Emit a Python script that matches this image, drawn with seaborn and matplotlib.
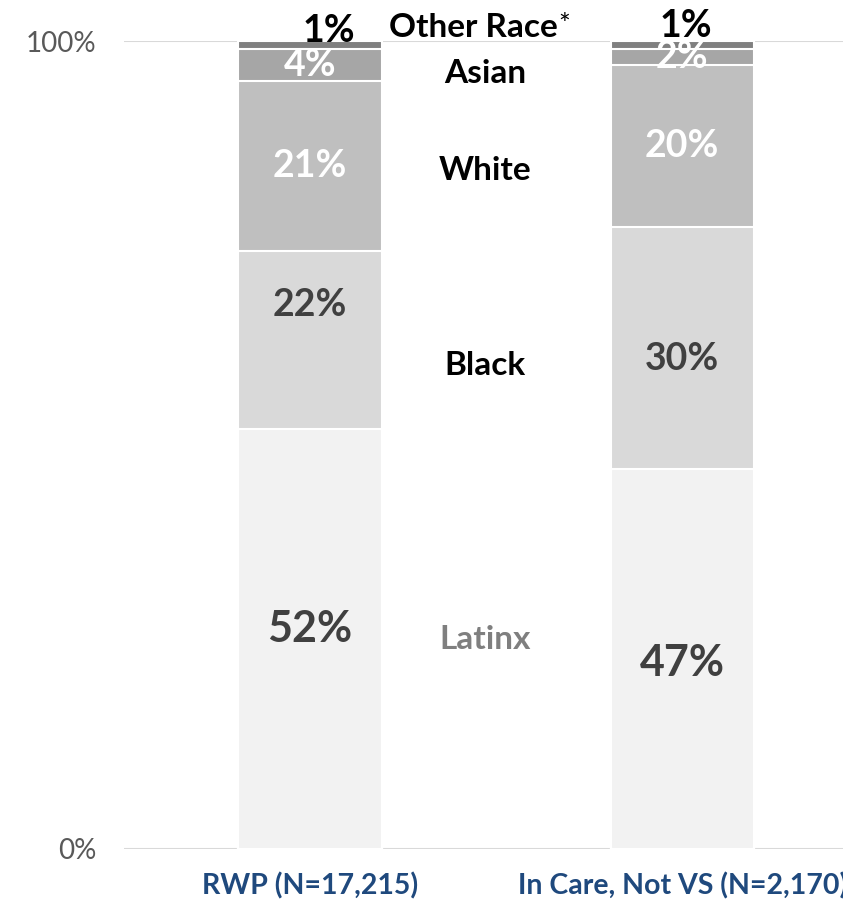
import numpy as np
import pandas as pd
import seaborn as sns
import matplotlib.pyplot as plt

groups = ['RWP (N=17,215)', 'In Care, Not VS (N=2,170)']
races = ['Latinx', 'Black', 'White', 'Asian', 'Other Race']
latinx = [52, 47]
black = [22, 30]
white = [21, 20]
asian = [4, 2]
other = [1, 1]
colors = ['#f2f2f2', '#d9d9d9', '#bfbfbf', '#a6a6a6', '#808080']

sns.set_theme(style='white')
plt.rcParams['font.family'] = ['Lato', 'DejaVu Sans']

vals = np.array([latinx, black, white, asian, other])
cum = vals.cumsum(axis=0)

fig = plt.figure(figsize=(8.43, 9.02), dpi=100)
ax = fig.add_axes([0.147, 0.0588, 0.883, 0.8957])

# stacked bars by overlaying cumulative totals, top segment first
for i in range(len(races) - 1, -1, -1):
    df = pd.DataFrame({'group': groups, 'value': cum[i]})
    sns.barplot(data=df, x='group', y='value', color=colors[i], width=0.385,
                edgecolor='white', linewidth=1.5, saturation=1, ax=ax)

# segment value labels
nudge = {(1, 0): 4.3, (1, 1): -1.3, (0, 0): 1.2, (0, 1): -0.5}
top_x = [0.05, 0.01]
top_y = [101.2, 101.9]
for j in range(len(groups)):
    for i in range(len(races)):
        v = vals[i, j]
        mid = cum[i, j] - v / 2 + nudge.get((i, j), 0)
        if i == 4:
            ax.text(j + top_x[j], top_y[j], f'{v}%', ha='center', va='center',
                    fontsize=27, fontweight='bold', color='black', clip_on=False)
            continue
        if i <= 1:
            c, fs = '#404040', 31 if i == 0 else 27
        else:
            c, fs = 'white', 27
        ax.text(j, mid, f'{v}%', ha='center', va='center',
                fontsize=fs, fontweight='bold', color=c)

# category names between the bars
name_y = [25.9, 59.8, 84.0, 96.0, 101.7]
name_c = ['#7f7f7f', 'black', 'black', 'black', 'black']
for i, r in enumerate(races):
    if r == 'Other Race':
        ax.text(0.44, name_y[i], 'Other Race', ha='center', va='center', fontsize=24,
                fontweight='bold', color='black', clip_on=False)
        ax.text(0.683, name_y[i] + 0.1, '*', ha='center', va='center', fontsize=20,
                color='black', clip_on=False)
    else:
        ax.text(0.47, name_y[i], r, ha='center', va='center', fontsize=24,
                fontweight='bold', color=name_c[i])

ax.set_xlim(-0.5, 1.5)
ax.set_ylim(0, 100)
ax.set_yticks([0, 100])
ax.set_yticklabels(['0%', '100%'], fontsize=20, color='#595959')
ax.tick_params(axis='y', pad=20, length=0)
ax.tick_params(axis='x', pad=17, length=0)
for lab in ax.get_xticklabels():
    lab.set_fontsize(20.5)
    lab.set_fontweight('bold')
    lab.set_color('#1f497d')
ax.set_xlabel('')
ax.set_ylabel('')
for y in [0, 100]:
    ax.axhline(y, color='#d9d9d9', linewidth=1.5, zorder=0)
sns.despine(ax=ax, left=True, bottom=True)

fig.savefig('out.png', dpi=100)
